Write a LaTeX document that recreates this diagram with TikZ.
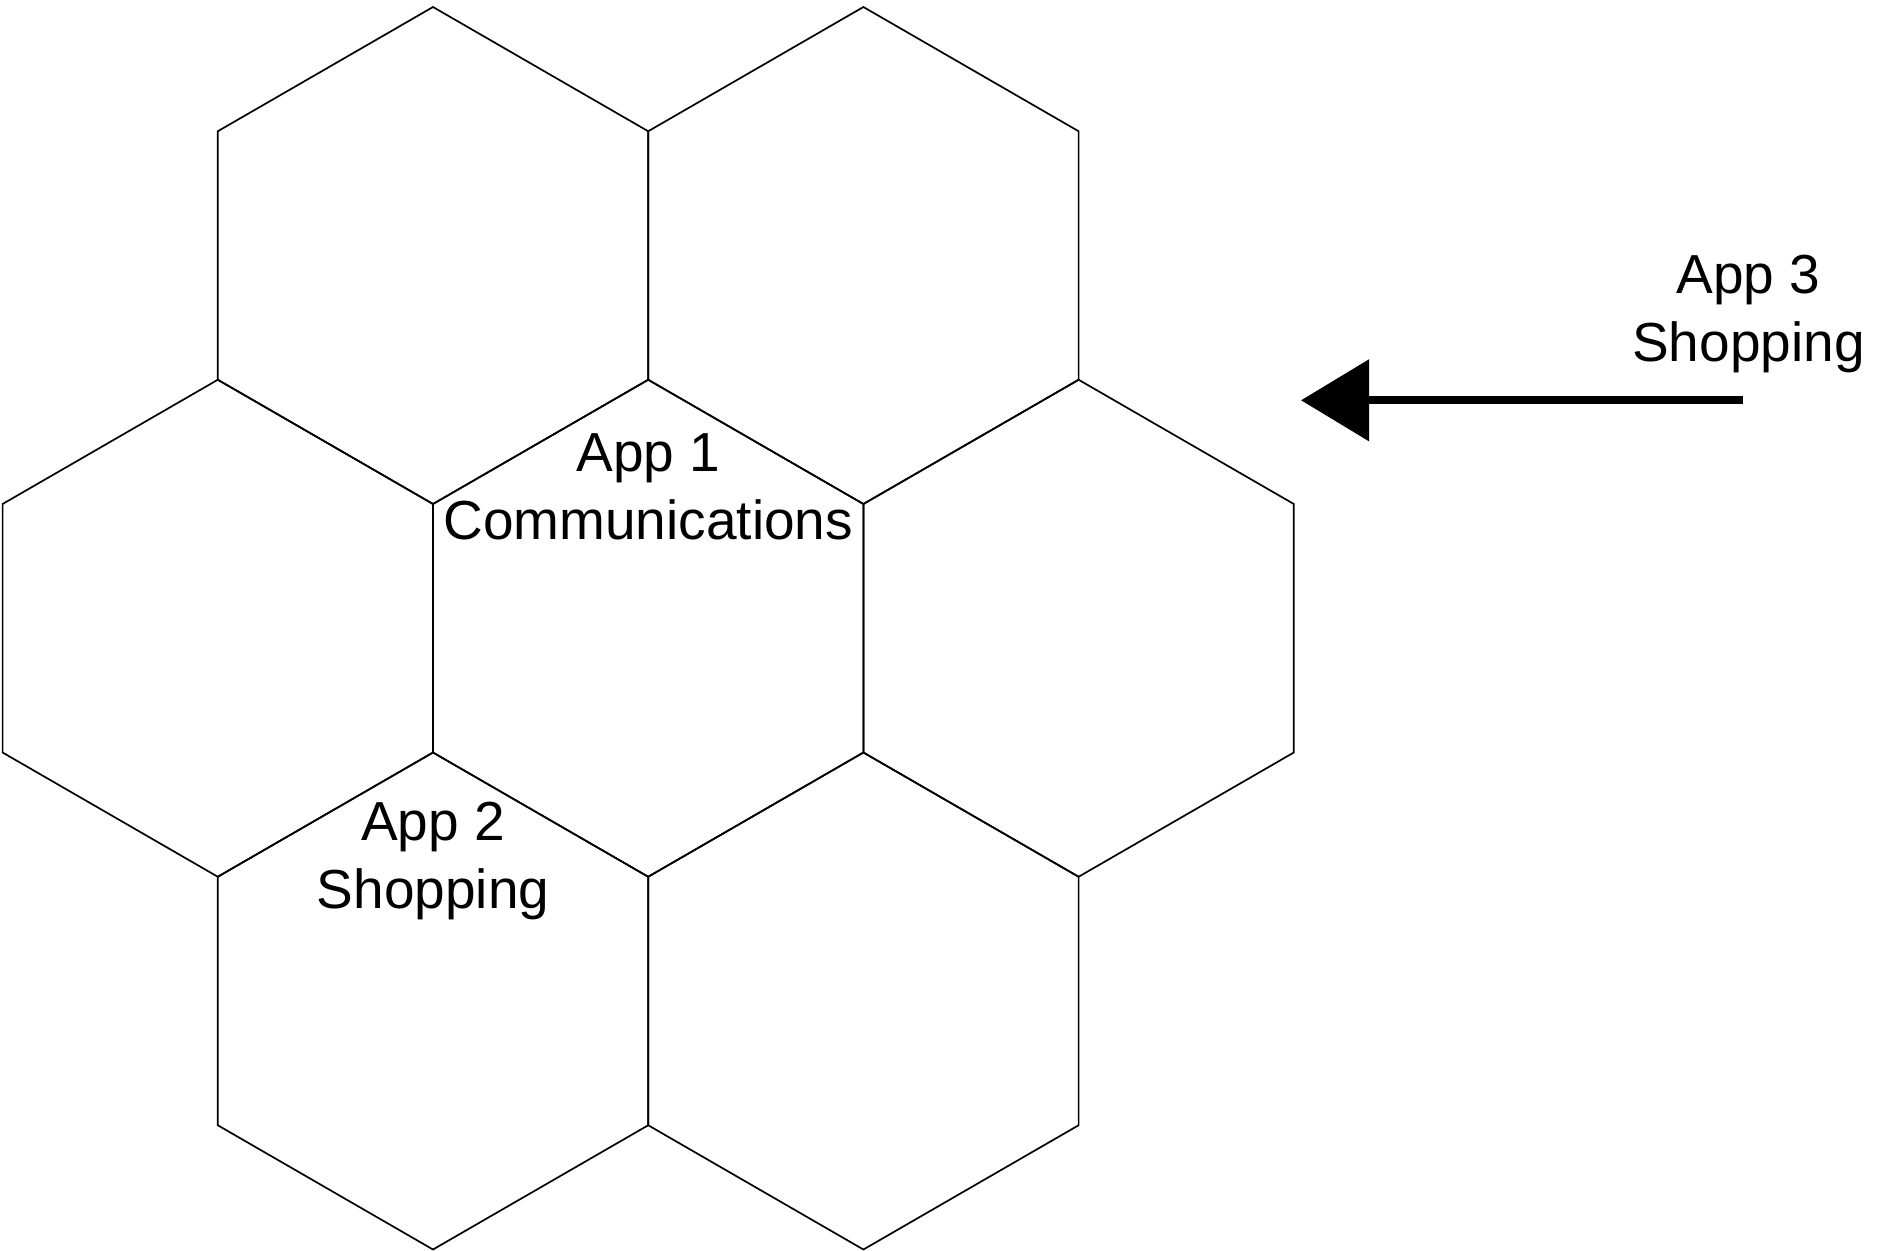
\documentclass[tikz,border=0pt]{standalone}
\usepackage{fontspec}
\setmainfont{Liberation Sans}
\usetikzlibrary{arrows.meta}
\tikzset{
  hexedge/.style={line width=1.7pt, line join=miter},
  lbl/.style={font=\fontsize{55}{68}\selectfont, align=center, inner sep=0pt},
  pointer/.style={line width=8pt, -{Triangle[length=68pt,width=80pt]}}
}
\begin{document}
\begin{tikzpicture}[x=1pt,y=-1pt]
  \useasboundingbox (0,0) rectangle (1879,1250);
  % honeycomb of seven pointy-top cells
  \foreach \cx/\cy in {433/255.5, 863.4/255.5, 217.8/628.25, 648.2/628.25,
                       1078.6/628.25, 433/1001, 863.4/1001}
    \draw[hexedge] (\cx,\cy-248.5) -- (\cx+215.2,\cy-124.25)
      -- (\cx+215.2,\cy+124.25) -- (\cx,\cy+248.5)
      -- (\cx-215.2,\cy+124.25) -- (\cx-215.2,\cy-124.25) -- cycle;
  % labels
  \node[lbl, anchor=base] (app1) at (648.2,539.3) {App 1\\Communications};
  \node[lbl, anchor=base] (app2) at (433,908.3) {App 2\\Shopping};
  \node[lbl, anchor=base] (app3) at (1748.5,361.7) {App 3\\Shopping};
  % incoming app
  \coordinate (arrowfrom) at (1742.7,400.3);
  \coordinate (arrowto) at (1301,400.3);
  \draw[pointer] (arrowfrom) -- (arrowto);
\end{tikzpicture}
\end{document}
